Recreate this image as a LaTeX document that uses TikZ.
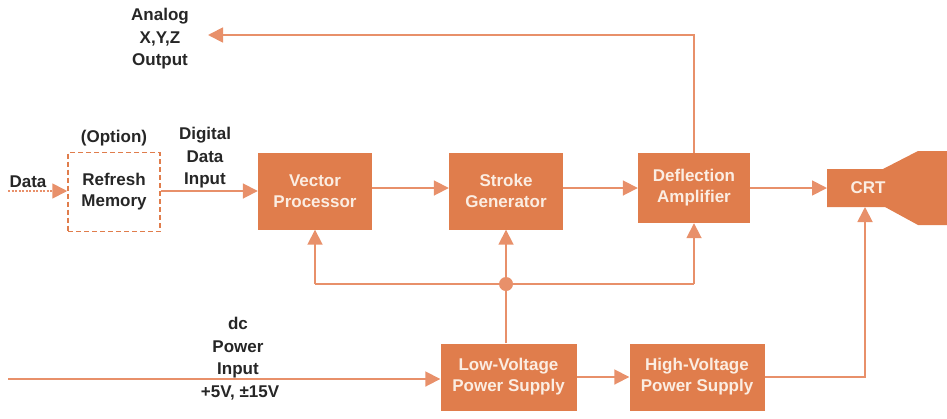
\documentclass[tikz,border=0pt]{standalone}
\usepackage{fontspec}
\setmainfont{Liberation Sans}
\usetikzlibrary{arrows.meta}
\definecolor{boxfill}{HTML}{E07D4C}
\definecolor{linec}{HTML}{E8906A}
\definecolor{txt}{HTML}{262626}
\definecolor{intxt}{HTML}{FBEDE2}
\tikzset{
  blk/.style={fill=boxfill, draw=none, text=intxt, font=\fontsize{17}{21}\selectfont\bfseries, align=center, inner sep=0pt},
  lbl/.style={text=txt, font=\fontsize{17}{22.5}\selectfont\bfseries, align=center, inner sep=0pt},
  conn/.style={draw=linec, line width=1.8pt, -{Triangle[length=15pt,width=15pt]}},
  plain/.style={draw=linec, line width=1.8pt},
}
\begin{document}
\begin{tikzpicture}[x=1pt,y=-1pt]
\useasboundingbox (0,0) rectangle (947,418);
% boxes
\node[draw=boxfill, line width=1.5pt, dash pattern=on 5pt off 3pt, minimum width=92pt, minimum height=79pt, text=txt, font=\fontsize{17}{21}\selectfont\bfseries, align=center, inner sep=0pt] (rm) at (114,192) {Refresh\\Memory};
\node[blk, minimum width=114pt, minimum height=77pt] (vp) at (315,191) {Vector\\Processor};
\node[blk, minimum width=114pt, minimum height=77pt] (sg) at (506,191) {Stroke\\Generator};
\node[blk, minimum width=112pt, minimum height=70pt] (da) at (694,188) {Deflection\\Amplifier};
\node[blk, minimum width=136pt, minimum height=67pt] (lv) at (508.5,377) {Low-Voltage\\Power Supply};
\node[blk, minimum width=135pt, minimum height=67pt] (hv) at (697,377) {High-Voltage\\Power Supply};
% CRT
\fill[boxfill] (827,169) -- (883,169) -- (918,151) -- (947,151) -- (947,225) -- (918,225) -- (885,207) -- (827,207) -- cycle;
\node[text=intxt, font=\fontsize{17}{21}\selectfont\bfseries, inner sep=0pt] (crt) at (868,188) {CRT};
\coordinate (crtl) at (827,188);
\coordinate (crtb) at (865,207);
% labels
\node[lbl] (opt) at (114,138) {(Option)};
\node[lbl] (ddi) at (205,158) {Digital\\Data\\Input};
\node[lbl] (ana) at (160,39) {Analog\\X,Y,Z\\Output};
\node[lbl] (datal) at (28,182) {Data};
\node[lbl] (dc) at (238,348) {dc\\Power\\Input};
\node[lbl] (volt) at (240,393) {+5V, ±15V};
% coordinates
\coordinate (din) at (8,191);
\coordinate (pin) at (8,379);
\coordinate (anaend) at (208,35);
\coordinate (dot) at (506,284);
% connectors
\draw[conn, dash pattern=on 2pt off 1.5pt] (din) -- (din -| rm.west);
\draw[conn] (rm.east |- vp) -- (vp.west);
\draw[conn] (vp.east |- 0,188) -- (sg.west |- 0,188);
\draw[conn] (sg.east |- 0,188) -- (da.west |- 0,188);
\draw[conn] (da.east |- 0,188) -- (crtl);
\draw[conn] (da.north) -- (da.north |- anaend) -- (anaend);
\draw[plain] (vp.south |- dot) -- (da.south |- dot);
\draw[conn] (vp.south |- dot) -- (vp.south);
\draw[conn] (dot) -- (dot |- sg.south);
\draw[conn] (da.south |- dot) -- (da.south);
\draw[plain] (lv.north -| dot) -- (dot);
\fill[linec] (dot) circle (7pt);
\draw[conn] (pin) -- (pin -| lv.west);
\draw[conn] (lv.east) -- (hv.west);
\draw[conn] (hv.east) -- (hv.east -| crtb) -- (crtb);
\end{tikzpicture}
\end{document}
